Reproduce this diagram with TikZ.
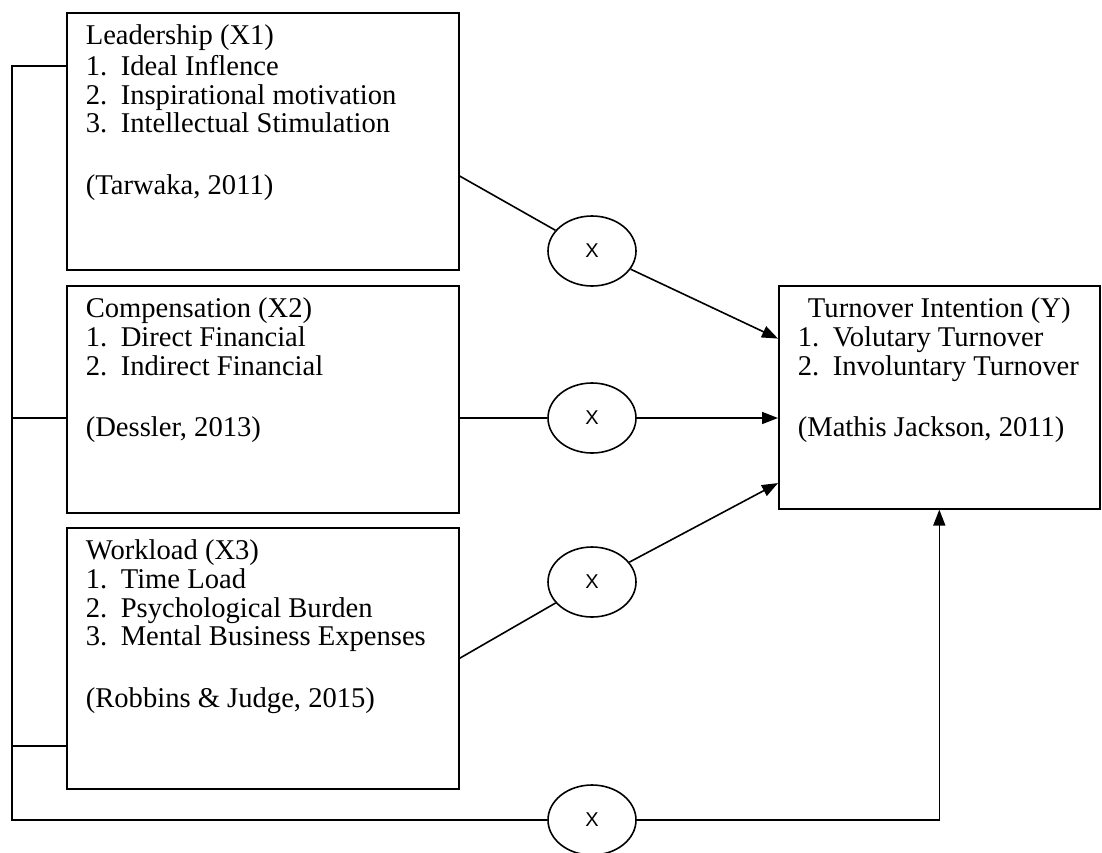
\documentclass[tikz,border=0pt]{standalone}
\usepackage{fontspec}
\setmainfont{Liberation Serif}
\newfontfamily\xfont{Liberation Sans}
\usetikzlibrary{arrows.meta, shapes.geometric, calc}

\newcommand{\nr}[1]{\makebox[17.5pt][l]{#1}}
\newcommand{\boxtext}[3]{\parbox[t][#1][t]{#2}{\strut #3}}

\begin{document}
\begin{tikzpicture}[x=0.5pt, y=-0.5pt, line width=0.8pt,
    >={Triangle[length=8pt,width=6pt]},
    factor/.style={draw, rectangle, anchor=north west, inner xsep=9.5pt, inner ysep=6pt,
        font=\fontsize{14.3}{14.3}\selectfont},
    mult/.style={draw, ellipse, minimum width=44pt, minimum height=35pt, inner sep=0pt,
        font=\xfont\fontsize{10}{12}\selectfont}]
\useasboundingbox (0,0) rectangle (1102,852);

% the three factors and the outcome
\node[factor] (lead) at (66,12) {\boxtext{116.5pt}{177pt}{Leadership (X1)\\
    \nr{1.}Ideal Inflence\\ \nr{2.}Inspirational motivation\\
    \nr{3.}Intellectual Stimulation\\[16.5pt] (Tarwaka, 2011)}};
\node[factor] (comp) at (66,285) {\boxtext{101.5pt}{177pt}{Compensation (X2)\\
    \nr{1.}Direct Financial\\ \nr{2.}Indirect Financial\\[16.5pt] (Dessler, 2013)}};
\node[factor] (work) at (66,527) {\boxtext{118.5pt}{177pt}{Workload (X3)\\
    \nr{1.}Time Load\\ \nr{2.}Psychological Burden\\
    \nr{3.}Mental Business Expenses\\[16.5pt] (Robbins \& Judge, 2015)}};
\node[factor] (ty) at (778,285) {\boxtext{99.5pt}{141.5pt}{\hfill Turnover Intention (Y)\hfill\null\\
    \nr{1.}Volutary Turnover\\ \nr{2.}Involuntary Turnover\\[16.5pt] (Mathis Jackson, 2011)}};

% the x circles
\foreach \n/\y in {c1/251, c2/418, c3/582, c4/820}
{
    \node[mult] (\n) at (592,\y) {X};
}
\coordinate (corner) at (12,820);

% single paths
\draw (lead.-10.5) -- (c1);
\draw[->] (c1) -- (ty.160);
\draw (comp.east |- c2) -- (c2);
\draw[->] (c2) -- (ty.west |- c2);
\draw (work.east) -- (c3);
\draw[->] (c3) -- (ty.208.9);

% joint path
\draw (lead.159.2) -| (corner) -- (c4);
\draw[->] (c4) -| (ty.south);
\draw (comp.west |- c2) -- (corner |- c2);
\draw (work.204.2) -- (corner |- work.204.2);
\end{tikzpicture}
\end{document}
